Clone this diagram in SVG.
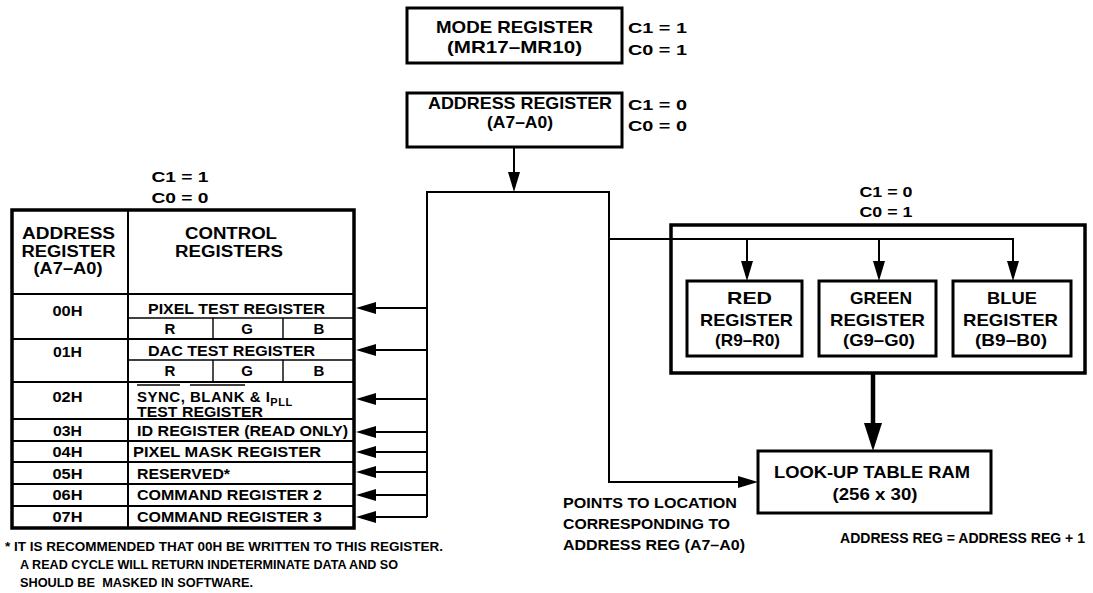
<svg xmlns="http://www.w3.org/2000/svg" width="1093" height="593" viewBox="0 0 1093 593">
<style>
.t{font-family:"Liberation Sans",Arial,sans-serif;font-weight:bold;fill:#000}
.m{text-anchor:middle}
.f17{font-size:17px}
.f16{font-size:16px}
.f15{font-size:15px}
.f12{font-size:12.5px}
.box{fill:#fff;stroke:#000;stroke-width:3}
.wire{fill:none;stroke:#000;stroke-width:2}
.thick{fill:none;stroke:#000;stroke-width:4.5}
.ln{stroke:#000;stroke-width:2;fill:none}
.ln1{stroke:#000;stroke-width:1.4;fill:none}
</style>
<defs>
<marker id="arr" markerUnits="userSpaceOnUse" markerWidth="20" markerHeight="12" refX="0" refY="6" orient="auto" overflow="visible">
<path d="M0,0 L20,6 L0,12 Z" fill="#000"/>
</marker>
<marker id="arrBig" markerUnits="userSpaceOnUse" markerWidth="28" markerHeight="18" refX="0" refY="9" orient="auto" overflow="visible">
<path d="M0,0 L28,9 L0,18 Z" fill="#000"/>
</marker>
</defs>

<g id="connectors">
<path class="wire" d="M514,147 V172" marker-end="url(#arr)"/>
<path class="wire" d="M427,517 V192 H609 V482 H738" marker-end="url(#arr)"/>
<path class="wire" d="M609,239 H1013 V261" marker-end="url(#arr)"/>
<path class="wire" d="M747,239 V261" marker-end="url(#arr)"/>
<path class="wire" d="M879,239 V261" marker-end="url(#arr)"/>
<path class="wire" d="M427,308 H376" marker-end="url(#arr)"/>
<path class="wire" d="M427,350 H376" marker-end="url(#arr)"/>
<path class="wire" d="M427,399 H376" marker-end="url(#arr)"/>
<path class="wire" d="M427,432 H376" marker-end="url(#arr)"/>
<path class="wire" d="M427,452 H376" marker-end="url(#arr)"/>
<path class="wire" d="M427,472 H376" marker-end="url(#arr)"/>
<path class="wire" d="M427,495 H376" marker-end="url(#arr)"/>
<path class="wire" d="M427,517 H376" marker-end="url(#arr)"/>
<path class="thick" d="M873,374 V423" marker-end="url(#arrBig)"/>
</g>

<g id="mode-register">
<rect class="box" x="407" y="8" width="215" height="55"/>
<text class="t f17 m" x="514.5" y="33" textLength="157" lengthAdjust="spacingAndGlyphs">MODE REGISTER</text>
<text class="t f17 m" x="514.5" y="53" textLength="135" lengthAdjust="spacingAndGlyphs">(MR17–MR10)</text>
<text class="t f15" x="628" y="33" textLength="59" lengthAdjust="spacingAndGlyphs">C1 = 1</text>
<text class="t f15" x="628" y="55" textLength="59" lengthAdjust="spacingAndGlyphs">C0 = 1</text>
</g>

<g id="address-register">
<rect class="box" x="407" y="93" width="215" height="54"/>
<text class="t f17 m" x="520" y="109" textLength="184" lengthAdjust="spacingAndGlyphs">ADDRESS REGISTER</text>
<text class="t f17 m" x="520" y="128" textLength="66" lengthAdjust="spacingAndGlyphs">(A7–A0)</text>
<text class="t f15" x="628" y="110" textLength="59" lengthAdjust="spacingAndGlyphs">C1 = 0</text>
<text class="t f15" x="628" y="131" textLength="59" lengthAdjust="spacingAndGlyphs">C0 = 0</text>
</g>

<g id="control-table">
<text class="t f15 m" x="180" y="182" textLength="57" lengthAdjust="spacingAndGlyphs">C1 = 1</text>
<text class="t f15 m" x="180" y="203" textLength="57" lengthAdjust="spacingAndGlyphs">C0 = 0</text>
<rect x="12" y="210" width="342" height="318" fill="#fff" stroke="#000" stroke-width="3.5"/>
<line class="ln" x1="128" y1="210" x2="128" y2="528" stroke-width="3"/>
<line class="ln" x1="12" y1="294" x2="354" y2="294" stroke-width="3"/>
<line class="ln" x1="12" y1="339" x2="354" y2="339"/>
<line class="ln" x1="12" y1="382" x2="354" y2="382"/>
<line class="ln" x1="12" y1="419" x2="354" y2="419"/>
<line class="ln" x1="12" y1="441" x2="354" y2="441"/>
<line class="ln" x1="12" y1="462" x2="354" y2="462"/>
<line class="ln" x1="12" y1="484" x2="354" y2="484"/>
<line class="ln" x1="12" y1="506" x2="354" y2="506"/>
<line class="ln1" x1="128" y1="318" x2="354" y2="318"/>
<line class="ln1" x1="128" y1="360" x2="354" y2="360"/>
<line class="ln1" x1="213" y1="318" x2="213" y2="339"/>
<line class="ln1" x1="283" y1="318" x2="283" y2="339"/>
<line class="ln1" x1="213" y1="360" x2="213" y2="382"/>
<line class="ln1" x1="283" y1="360" x2="283" y2="382"/>
<text class="t f16 m" x="68.5" y="239" textLength="93" lengthAdjust="spacingAndGlyphs">ADDRESS</text>
<text class="t f16 m" x="68.5" y="256.5" textLength="94" lengthAdjust="spacingAndGlyphs">REGISTER</text>
<text class="t f16 m" x="68" y="274" textLength="69" lengthAdjust="spacingAndGlyphs">(A7–A0)</text>
<text class="t f16 m" x="231" y="239" textLength="92" lengthAdjust="spacingAndGlyphs">CONTROL</text>
<text class="t f16 m" x="229" y="256.5" textLength="108" lengthAdjust="spacingAndGlyphs">REGISTERS</text>
<g id="row-00h">
<text class="t f15 m" x="67.5" y="316" textLength="30" lengthAdjust="spacingAndGlyphs">00H</text>
<text class="t f15" x="148" y="314" textLength="177" lengthAdjust="spacingAndGlyphs">PIXEL TEST REGISTER</text>
<text class="t f15 m" x="170" y="334">R</text>
<text class="t f15 m" x="247" y="334">G</text>
<text class="t f15 m" x="319" y="334">B</text>
</g>
<g id="row-01h">
<text class="t f15 m" x="67.5" y="357" textLength="29" lengthAdjust="spacingAndGlyphs">01H</text>
<text class="t f15" x="148" y="356" textLength="167" lengthAdjust="spacingAndGlyphs">DAC TEST REGISTER</text>
<text class="t f15 m" x="170" y="376">R</text>
<text class="t f15 m" x="247" y="376">G</text>
<text class="t f15 m" x="319" y="376">B</text>
</g>
<g id="row-02h">
<text class="t f15 m" x="67.5" y="402" textLength="30" lengthAdjust="spacingAndGlyphs">02H</text>
<text class="t f15" x="137" y="401.5" letter-spacing="0.5">SYNC, BLANK &amp; I<tspan font-size="11" dy="4">PLL</tspan></text>
<line class="ln1" x1="137" y1="385" x2="180" y2="385"/>
<line class="ln1" x1="190" y1="385" x2="245" y2="385"/>
<text class="t f15" x="137" y="416.5" textLength="126" lengthAdjust="spacingAndGlyphs">TEST REGISTER</text>
</g>
<g id="row-03h">
<text class="t f15 m" x="67.5" y="436" textLength="29" lengthAdjust="spacingAndGlyphs">03H</text>
<text class="t f15" x="137" y="436" textLength="211" lengthAdjust="spacingAndGlyphs">ID REGISTER (READ ONLY)</text>
</g>
<g id="row-04h">
<text class="t f15 m" x="67.5" y="457" textLength="30" lengthAdjust="spacingAndGlyphs">04H</text>
<text class="t f15" x="133" y="457" textLength="188" lengthAdjust="spacingAndGlyphs">PIXEL MASK REGISTER</text>
</g>
<g id="row-05h">
<text class="t f15 m" x="67.5" y="479" textLength="30" lengthAdjust="spacingAndGlyphs">05H</text>
<text class="t f15" x="137" y="479" textLength="93" lengthAdjust="spacingAndGlyphs">RESERVED*</text>
</g>
<g id="row-06h">
<text class="t f15 m" x="67.5" y="500" textLength="30" lengthAdjust="spacingAndGlyphs">06H</text>
<text class="t f15" x="137" y="500" textLength="185" lengthAdjust="spacingAndGlyphs">COMMAND REGISTER 2</text>
</g>
<g id="row-07h">
<text class="t f15 m" x="67.5" y="522" textLength="30" lengthAdjust="spacingAndGlyphs">07H</text>
<text class="t f15" x="137" y="522" textLength="185" lengthAdjust="spacingAndGlyphs">COMMAND REGISTER 3</text>
</g>
</g>

<g id="footnote">
<text class="t f12" x="5" y="551" textLength="438" lengthAdjust="spacingAndGlyphs">* IT IS RECOMMENDED THAT 00H BE WRITTEN TO THIS REGISTER.</text>
<text class="t f12" x="20" y="569" textLength="378" lengthAdjust="spacingAndGlyphs">A READ CYCLE WILL RETURN INDETERMINATE DATA AND SO</text>
<text class="t f12" x="20" y="587" textLength="233" lengthAdjust="spacingAndGlyphs" xml:space="preserve">SHOULD BE  MASKED IN SOFTWARE.</text>
</g>

<g id="color-registers">
<text class="t f15 m" x="886" y="197" textLength="53" lengthAdjust="spacingAndGlyphs">C1 = 0</text>
<text class="t f15 m" x="886" y="217" textLength="53" lengthAdjust="spacingAndGlyphs">C0 = 1</text>
<rect x="671" y="225" width="414" height="148" fill="none" stroke="#000" stroke-width="3.5"/>
</g>

<g id="red-register">
<rect class="box" x="687" y="281" width="115" height="75"/>
<text class="t f17 m" x="749.5" y="304" textLength="45" lengthAdjust="spacingAndGlyphs">RED</text>
<text class="t f17 m" x="746.5" y="326" textLength="93" lengthAdjust="spacingAndGlyphs">REGISTER</text>
<text class="t f17 m" x="747.5" y="346" textLength="65" lengthAdjust="spacingAndGlyphs">(R9–R0)</text>
</g>
<g id="green-register">
<rect class="box" x="819" y="281" width="117" height="75"/>
<text class="t f17 m" x="881" y="304" textLength="62" lengthAdjust="spacingAndGlyphs">GREEN</text>
<text class="t f17 m" x="877.5" y="326" textLength="95" lengthAdjust="spacingAndGlyphs">REGISTER</text>
<text class="t f17 m" x="879" y="346" textLength="72" lengthAdjust="spacingAndGlyphs">(G9–G0)</text>
</g>
<g id="blue-register">
<rect class="box" x="953" y="281" width="118" height="75"/>
<text class="t f17 m" x="1012" y="304" textLength="50" lengthAdjust="spacingAndGlyphs">BLUE</text>
<text class="t f17 m" x="1010.5" y="326" textLength="95" lengthAdjust="spacingAndGlyphs">REGISTER</text>
<text class="t f17 m" x="1011" y="346" textLength="72" lengthAdjust="spacingAndGlyphs">(B9–B0)</text>
</g>

<g id="lut-ram">
<rect class="box" x="758" y="451" width="233" height="62"/>
<text class="t f17 m" x="872" y="478" textLength="196" lengthAdjust="spacingAndGlyphs">LOOK-UP TABLE RAM</text>
<text class="t f17 m" x="875" y="500" textLength="85" lengthAdjust="spacingAndGlyphs">(256 x 30)</text>
</g>

<g id="lut-notes">
<text class="t f15" x="563" y="508" textLength="174" lengthAdjust="spacingAndGlyphs">POINTS TO LOCATION</text>
<text class="t f15" x="563" y="529" textLength="167" lengthAdjust="spacingAndGlyphs">CORRESPONDING TO</text>
<text class="t f15" x="563" y="550" textLength="182" lengthAdjust="spacingAndGlyphs">ADDRESS REG (A7–A0)</text>
<text class="t f15" x="840" y="543" textLength="245" lengthAdjust="spacingAndGlyphs">ADDRESS REG = ADDRESS REG + 1</text>
</g>
</svg>
